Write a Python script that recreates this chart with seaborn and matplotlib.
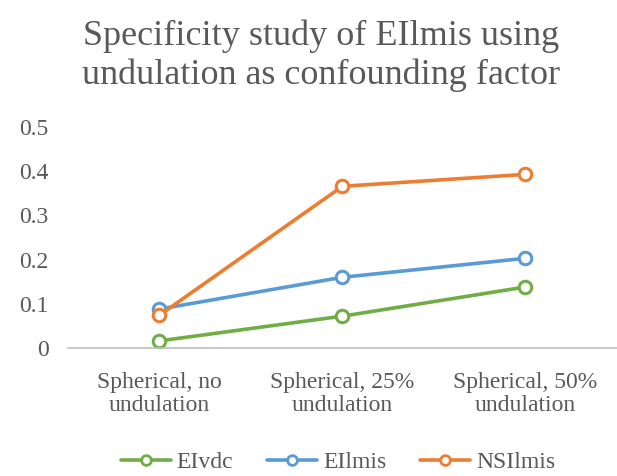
import matplotlib
matplotlib.use("Agg")
import matplotlib.pyplot as plt
from matplotlib.lines import Line2D
import seaborn as sns
import pandas as pd

categories = ["Spherical, no\nundulation", "Spherical, 25%\nundulation", "Spherical, 50%\nundulation"]
elvdc = [0.016, 0.072, 0.138]
ellmis = [0.088, 0.160, 0.203]
nsllmis = [0.074, 0.366, 0.393]
series_names = ["EIvdc", "EIlmis", "NSIlmis"]
series_colors = ["#70AD47", "#5B9BD5", "#ED7D31"]
yticks = [0, 0.1, 0.2, 0.3, 0.4, 0.5]
ytick_labels = ["0", "0.1", "0.2", "0.3", "0.4", "0.5"]

text_color = "#595959"

df = pd.DataFrame({
    "pos": list(range(len(categories))) * 3,
    "value": elvdc + ellmis + nsllmis,
    "series": [s for s in series_names for _ in categories],
})

sns.set_theme(style="white")
plt.rcParams["font.family"] = ["Liberation Serif", "DejaVu Serif"]

fig = plt.figure(figsize=(6.17, 4.76), dpi=100)
ax = fig.add_axes([0.11, 0.269, 0.89, 0.464])

sns.lineplot(data=df, x="pos", y="value", hue="series", hue_order=series_names,
             palette=series_colors, marker="o", markersize=9, markerfacecolor="white",
             markeredgewidth=2.2, linewidth=2.6, ax=ax, legend=False)
for line, c in zip(ax.get_lines(), series_colors):
    line.set_markeredgecolor(c)

ax.set_xlim(-0.5, 2.5)
ax.set_ylim(0, 0.5)
ax.set_yticks(yticks)
ax.set_yticklabels(ytick_labels, fontsize=17, color=text_color)
ax.set_xticks(range(len(categories)))
ax.set_xticklabels(categories, fontsize=17, color=text_color, linespacing=1.15)
ax.tick_params(axis="both", length=0)
ax.tick_params(axis="x", pad=17)
ax.tick_params(axis="y", pad=14)
for side in ["top", "right", "left"]:
    ax.spines[side].set_visible(False)
ax.spines["bottom"].set_color("#BFBFBF")
ax.spines["bottom"].set_linewidth(1.2)
ax.set_xlabel("")
ax.set_ylabel("")

fig.text(0.52, 0.882, "Specificity study of EIlmis using\nundulation as confounding factor",
         ha="center", va="center", fontsize=26, color=text_color, linespacing=1.22)

handles = [Line2D([0], [0], color=c, lw=2.6, marker="o", markersize=7,
                  markerfacecolor="white", markeredgecolor=c, markeredgewidth=2.0)
           for c in series_colors]
fig.legend(handles, series_names, loc="center", bbox_to_anchor=(0.548, 0.029), ncol=3,
           frameon=False, fontsize=17, handlelength=2.1, columnspacing=1.45,
           handletextpad=0.25, labelcolor=text_color, borderpad=0)

fig.savefig("out.png", dpi=100, facecolor="white")
